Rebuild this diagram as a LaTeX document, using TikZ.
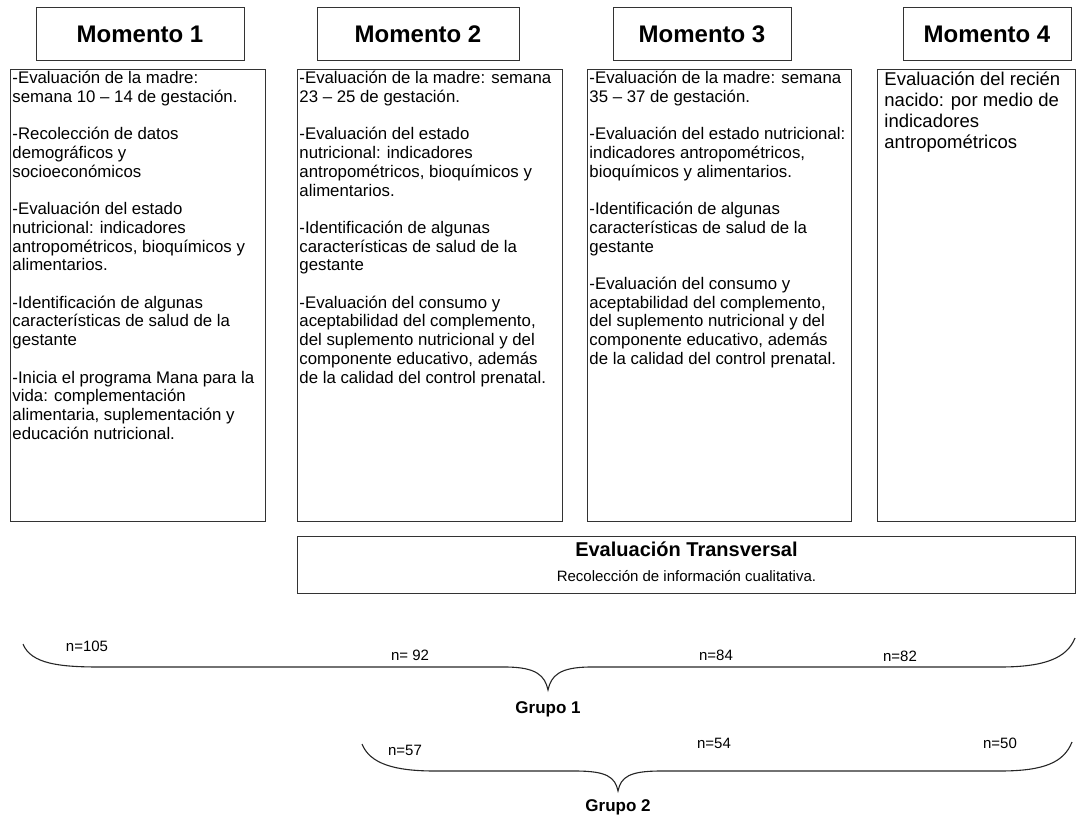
\documentclass[tikz,border=0pt]{standalone}
\usepackage{fontspec}
\setmainfont{Liberation Sans}
\usetikzlibrary{positioning}

\newcommand{\gap}{\\[18.7pt]}

\begin{document}
\begin{tikzpicture}[
    x=1pt, y=-1pt,
    head/.style={rectangle, draw=black!80, line width=0.9pt, minimum height=53pt, inner sep=0pt, font=\fontsize{24}{27}\selectfont\bfseries},
    info/.style={rectangle, draw=black!80, line width=0.9pt, anchor=north west, inner sep=2pt, font=\fontsize{16.8}{18.7}\selectfont},
    nlab/.style={font=\fontsize{15}{17}\selectfont},
    grp/.style={font=\fontsize{17}{20}\selectfont\bfseries},
    brace/.style={line width=1.1pt, black!85}
]
\useasboundingbox (0,0) rectangle (1077,820);

% Moments
\node[head, minimum width=208pt] (h1) at (140,34) {Momento 1};
\node[head, minimum width=202pt] (h2) at (418,34) {Momento 2};
\node[head, minimum width=178pt] (h3) at (702,34) {Momento 3};
\node[head, minimum width=168pt] (h4) at (987,34) {Momento 4};

% What is done in each moment
\node[info] (c1) at (10,69) {\parbox[t][448pt][t]{251pt}{\raggedright
-Evaluación de la madre:\\semana 10 -- 14 de gestación.\gap
-Recolección de datos\\demográficos y\\socioeconómicos\gap
-Evaluación del estado\\nutricional: indicadores\\antropométricos, bioquímicos y\\alimentarios.\gap
-Identificación de algunas\\características de salud de la\\gestante\gap
-Inicia el programa Mana para la\\vida: complementación\\alimentaria, suplementación y\\educación nutricional.}};
\node[info] (c2) at (297,69) {\parbox[t][448pt][t]{261pt}{\raggedright
-Evaluación de la madre: semana\\23 -- 25 de gestación.\gap
-Evaluación del estado\\nutricional: indicadores\\antropométricos, bioquímicos y\\alimentarios.\gap
-Identificación de algunas\\características de salud de la\\gestante\gap
-Evaluación del consumo y\\aceptabilidad del complemento,\\del suplemento nutricional y del\\componente educativo, además\\de la calidad del control prenatal.}};
\node[info] (c3) at (587,69) {\parbox[t][448pt][t]{260pt}{\raggedright
-Evaluación de la madre: semana\\35 -- 37 de gestación.\gap
-Evaluación del estado nutricional:\\indicadores antropométricos,\\bioquímicos y alimentarios.\gap
-Identificación de algunas\\características de salud de la\\gestante\gap
-Evaluación del consumo y\\aceptabilidad del complemento,\\del suplemento nutricional y del\\componente educativo, además\\de la calidad del control prenatal.}};
\node[info, font=\fontsize{18.5}{21}\selectfont] (c4) at (877,69) {\parbox[t][448pt][t]{194pt}{\raggedright\leftskip=5pt
Evaluación del recién\\nacido: por medio de\\indicadores\\antropométricos}};

% Transversal evaluation
\node[info] (tr) at (297,536) {\parbox[t][53pt][t]{774pt}{\centering
\vspace*{3pt}{\fontsize{20}{22}\selectfont\bfseries Evaluación Transversal}\\[7pt]
{\fontsize{15}{17}\selectfont Recolección de información cualitativa.}}};

% Grupo 1
\coordinate (g1a) at (23,644);
\coordinate (g1t) at (548,690);
\coordinate (g1b) at (1075,638);
\draw[brace] (g1a) .. controls +(8,20) and +(-40,0) .. (100,667) -- (505,667)
    .. controls +(32,0) and +(-3,-14) .. (g1t)
    .. controls +(3,-14) and +(-32,0) .. (591,667) -- (1000,667)
    .. controls +(45,0) and +(-8,20) .. (g1b);
\node[nlab] (n1) at (87,646) {n=105};
\node[nlab] (n2) at (410,655) {n= 92};
\node[nlab] (n3) at (716,655) {n=84};
\node[nlab] (n4) at (900,656) {n=82};
\node[grp, below=8pt of g1t] (grp1) {Grupo 1};

% Grupo 2
\coordinate (g2a) at (362,744);
\coordinate (g2t) at (618,791);
\coordinate (g2b) at (1072,742);
\draw[brace] (g2a) .. controls +(8,20) and +(-40,0) .. (435,771) -- (575,771)
    .. controls +(32,0) and +(-3,-14) .. (g2t)
    .. controls +(3,-14) and +(-32,0) .. (661,771) -- (1000,771)
    .. controls +(45,0) and +(-8,20) .. (g2b);
\node[nlab] (n5) at (405,750) {n=57};
\node[nlab] (n6) at (714,743) {n=54};
\node[nlab] (n7) at (1000,743) {n=50};
\node[grp, below=5pt of g2t] (grp2) {Grupo 2};

\end{tikzpicture}
\end{document}
